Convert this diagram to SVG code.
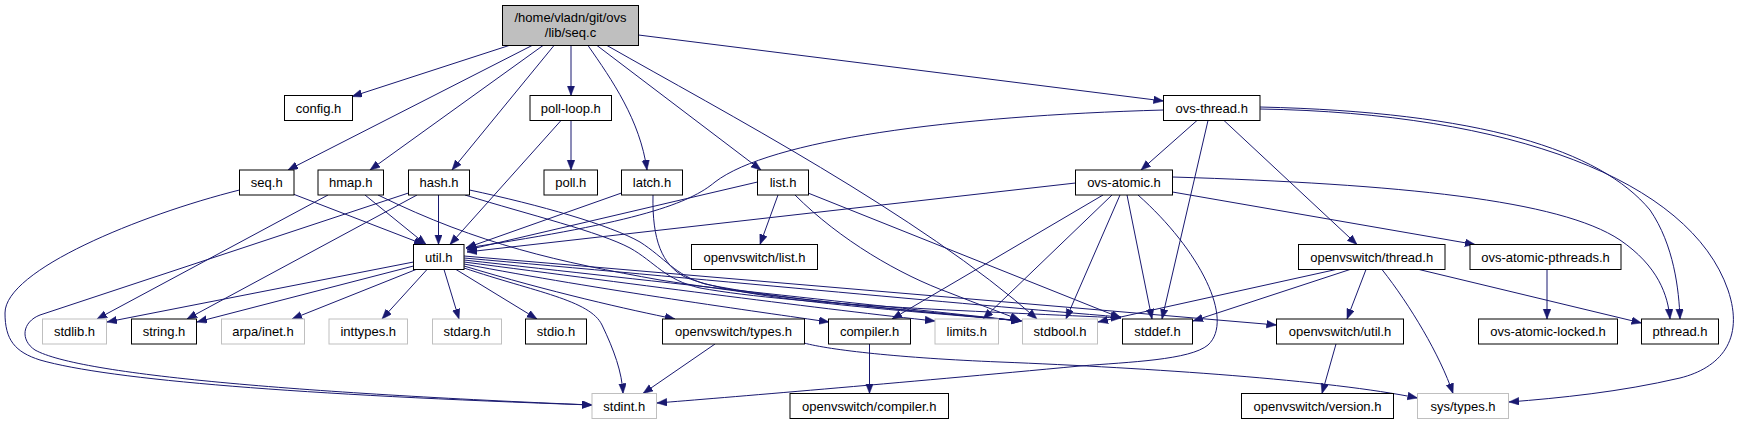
<svg xmlns="http://www.w3.org/2000/svg" width="1741" height="425" viewBox="0 0 1741 425">
<style>
.n rect{fill:#fff;stroke:#000;stroke-width:1}
.g rect{fill:#fff;stroke:#bfbfbf;stroke-width:1}
.r rect{fill:#bfbfbf;stroke:#000;stroke-width:1}
text{font-family:"Liberation Sans",Arial,sans-serif;font-size:13px;fill:#000;text-anchor:middle}
#edges path{fill:none;stroke:#191970;stroke-width:1;marker-end:url(#a)}
</style>
<defs>
<marker id="a" markerWidth="11" markerHeight="9" refX="10" refY="3.8" orient="auto" markerUnits="userSpaceOnUse"><path d="M0,0 L10,3.8 L0,7.6 z" fill="#191970" stroke="#191970" stroke-width="0.5"/></marker>
</defs>
<rect width="1741" height="425" fill="#fff"/>
<g id="edges">
<path d="M509,45.5 L352,96.5"/>
<path d="M532,45.5 L288,170"/>
<path d="M543,45.5 L370,170"/>
<path d="M554,45.5 L452,170"/>
<path d="M571,45.5 L571,95.5"/>
<path d="M588,45.5 C612,80 640,120 647,170"/>
<path d="M597,45.5 L761,170"/>
<path d="M607,45.5 C720,110 920,215 1037,319"/>
<path d="M638.5,35 L1163.5,101"/>
<path d="M571,120.5 L571,170"/>
<path d="M561,120.5 L450,244.5"/>
<path d="M1163.5,110 C950,116 770,140 715,182 C690,203 640,222 466,248"/>
<path d="M1197,120.5 L1141,170"/>
<path d="M1208,120.5 L1162,319"/>
<path d="M1224,120.5 L1357,244.5"/>
<path d="M1260,107 C1480,112 1600,150 1650,210 C1674,245 1679,290 1680,319"/>
<path d="M1260,109 C1510,113 1690,180 1728,290 C1745,340 1720,368 1680,378 C1620,392 1560,398 1509,402"/>
<path d="M293,194 L424,244.5"/>
<path d="M239.5,190 C140,215 5,270 5,313 C5,340 15,352 40,360 C110,380 300,395 592,405"/>
<path d="M365,195 L426,244.5"/>
<path d="M328,195 L97,319"/>
<path d="M378,195 C480,245 560,262 660,280 C800,302 950,314 1021,321"/>
<path d="M438.5,195 L438.5,244.5"/>
<path d="M417,195 L187,319"/>
<path d="M408.5,193 L40,315 C22,322 20,340 35,350 C80,375 300,393 592,405"/>
<path d="M469.5,190 C540,205 610,225 640,242 C665,258 675,275 705,284 C780,300 930,312 1021,321"/>
<path d="M465,195 C530,215 600,232 630,248 C655,262 665,280 700,288 C800,306 1000,312 1121,318"/>
<path d="M621.5,193 L466,248"/>
<path d="M653,195 C652,240 662,265 685,277 C740,300 900,310 1021,321"/>
<path d="M757.5,182 L467,250"/>
<path d="M778,195 L760,244.5"/>
<path d="M795,195 C840,240 900,275 950,293 C980,305 1000,312 1020,320"/>
<path d="M808,193 L1121,318"/>
<path d="M1075.5,183 L467,252"/>
<path d="M1103,195 L892,319"/>
<path d="M1112,195 L983,319"/>
<path d="M1120,195 L1066,319"/>
<path d="M1127,195 L1152,319"/>
<path d="M1138,195 C1200,250 1235,320 1208,345 C1190,360 1130,362 1080,366 C900,383 720,398 657,403"/>
<path d="M1172.5,192 L1475,244.5"/>
<path d="M1172.5,177 C1400,184 1560,200 1620,240 C1658,266 1668,295 1670,319"/>
<path d="M1547,269.5 L1547,319"/>
<path d="M1336,269.5 L1098,322"/>
<path d="M1350,269.5 L1193,321"/>
<path d="M1366,269.5 L1347,319"/>
<path d="M1382,269.5 C1410,305 1440,355 1453,393.5"/>
<path d="M1419,269.5 L1641.5,323"/>
<path d="M413.5,262 L107,322"/>
<path d="M413.5,266 L197,322"/>
<path d="M416,269.5 L292,319"/>
<path d="M427,269.5 L382,319"/>
<path d="M444,269.5 L459,319"/>
<path d="M456,269.5 L537,319"/>
<path d="M464,268 C535,292 590,300 602,325 C614,350 622,372 623,393.5"/>
<path d="M464,266 C550,292 630,310 675,319"/>
<path d="M464,264 C600,290 760,312 829,322"/>
<path d="M464,262 C640,285 830,310 935,321"/>
<path d="M464,260 C660,282 880,306 1022,321"/>
<path d="M464,258 C690,278 960,304 1121,317"/>
<path d="M464,256 L1276.5,325"/>
<path d="M715,344 L643,393.5"/>
<path d="M804,343 C830,350 900,358 1000,362 C1150,368 1330,380 1417.5,398"/>
<path d="M869.5,344 L869.5,393.5"/>
<path d="M1336,344 L1322,393.5"/>
</g>
<g id="root" class="r"><rect x="502.5" y="5.5" width="136" height="40"/><text x="570.5" y="21.5">/home/vladn/git/ovs</text><text x="570.5" y="36.5">/lib/seq.c</text></g>
<g id="config" class="n"><rect x="284.5" y="95.5" width="68" height="25"/><text x="318.5" y="112.5">config.h</text></g>
<g id="poll-loop" class="n"><rect x="530" y="95.5" width="81.5" height="25"/><text x="570.75" y="112.5">poll-loop.h</text></g>
<g id="ovs-thread" class="n"><rect x="1163.5" y="95.5" width="96.5" height="25"/><text x="1211.75" y="112.5">ovs-thread.h</text></g>
<g id="seq" class="n"><rect x="239.5" y="170" width="54.5" height="25"/><text x="266.75" y="187">seq.h</text></g>
<g id="hmap" class="n"><rect x="318" y="170" width="65.5" height="25"/><text x="350.75" y="187">hmap.h</text></g>
<g id="hash" class="n"><rect x="408.5" y="170" width="61" height="25"/><text x="439" y="187">hash.h</text></g>
<g id="poll" class="n"><rect x="544" y="170" width="53.5" height="25"/><text x="570.75" y="187">poll.h</text></g>
<g id="latch" class="n"><rect x="621.5" y="170" width="61" height="25"/><text x="652" y="187">latch.h</text></g>
<g id="list" class="n"><rect x="757.5" y="170" width="51" height="25"/><text x="783" y="187">list.h</text></g>
<g id="ovs-atomic" class="n"><rect x="1075.5" y="170" width="97" height="25"/><text x="1124" y="187">ovs-atomic.h</text></g>
<g id="util" class="n"><rect x="413.5" y="244.5" width="50.5" height="25"/><text x="438.75" y="261.5">util.h</text></g>
<g id="ovs-list" class="n"><rect x="691.5" y="244.5" width="126" height="25"/><text x="754.5" y="261.5">openvswitch/list.h</text></g>
<g id="ovs-thread-pub" class="n"><rect x="1298.5" y="244.5" width="146.5" height="25"/><text x="1371.75" y="261.5">openvswitch/thread.h</text></g>
<g id="ovs-atomic-pthreads" class="n"><rect x="1470" y="244.5" width="151" height="25"/><text x="1545.5" y="261.5">ovs-atomic-pthreads.h</text></g>
<g id="stdlib" class="g"><rect x="42.5" y="319" width="64" height="25"/><text x="74.5" y="336">stdlib.h</text></g>
<g id="string" class="n"><rect x="131.5" y="319" width="65" height="25"/><text x="164" y="336">string.h</text></g>
<g id="arpa-inet" class="g"><rect x="221.5" y="319" width="83" height="25"/><text x="263" y="336">arpa/inet.h</text></g>
<g id="inttypes" class="g"><rect x="329" y="319" width="78.5" height="25"/><text x="368.25" y="336">inttypes.h</text></g>
<g id="stdarg" class="g"><rect x="432.5" y="319" width="69" height="25"/><text x="467" y="336">stdarg.h</text></g>
<g id="stdio" class="n"><rect x="525.5" y="319" width="61" height="25"/><text x="556" y="336">stdio.h</text></g>
<g id="ovs-types" class="n"><rect x="662.5" y="319" width="142" height="25"/><text x="733.5" y="336">openvswitch/types.h</text></g>
<g id="compiler" class="n"><rect x="828.5" y="319" width="82" height="25"/><text x="869.5" y="336">compiler.h</text></g>
<g id="limits" class="g"><rect x="935" y="319" width="63.5" height="25"/><text x="966.75" y="336">limits.h</text></g>
<g id="stdbool" class="g"><rect x="1022.5" y="319" width="75" height="25"/><text x="1060" y="336">stdbool.h</text></g>
<g id="stddef" class="n"><rect x="1122.5" y="319" width="70" height="25"/><text x="1157.5" y="336">stddef.h</text></g>
<g id="ovs-util" class="n"><rect x="1276.5" y="319" width="127" height="25"/><text x="1340" y="336">openvswitch/util.h</text></g>
<g id="ovs-atomic-locked" class="n"><rect x="1478.5" y="319" width="139" height="25"/><text x="1548" y="336">ovs-atomic-locked.h</text></g>
<g id="pthread" class="n"><rect x="1641.5" y="319" width="77" height="25"/><text x="1680" y="336">pthread.h</text></g>
<g id="stdint" class="g"><rect x="592" y="393.5" width="64.5" height="25"/><text x="624.25" y="410.5">stdint.h</text></g>
<g id="ovs-compiler" class="n"><rect x="790" y="393.5" width="158.5" height="25"/><text x="869.25" y="410.5">openvswitch/compiler.h</text></g>
<g id="ovs-version" class="n"><rect x="1241.5" y="393.5" width="152" height="25"/><text x="1317.5" y="410.5">openvswitch/version.h</text></g>
<g id="sys-types" class="g"><rect x="1417.5" y="393.5" width="91" height="25"/><text x="1463" y="410.5">sys/types.h</text></g>
</svg>
